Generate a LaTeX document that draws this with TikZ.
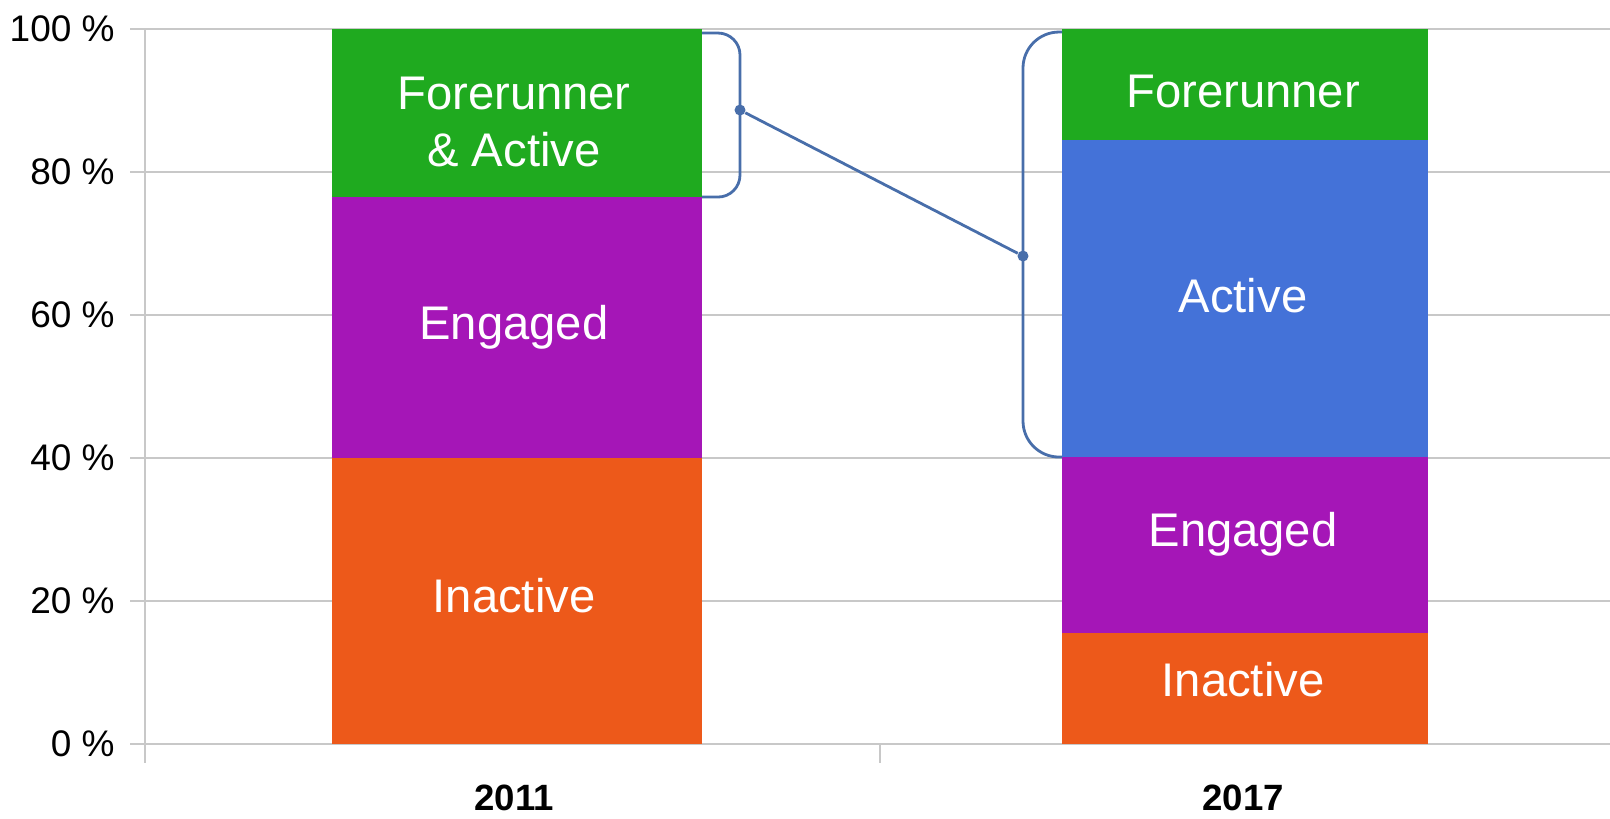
\documentclass[tikz,border=0pt]{standalone}
\usepackage{fontspec}
\setmainfont{Liberation Sans}
\usetikzlibrary{positioning}
\definecolor{inactivecol}{RGB}{237,89,26}
\definecolor{engagedcol}{RGB}{165,22,183}
\definecolor{activecol}{RGB}{68,114,216}
\definecolor{forerunnercol}{RGB}{31,170,31}
\definecolor{bracecol}{RGB}{72,110,170}
\definecolor{gridcol}{RGB}{200,200,200}
\tikzset {
  grid line/.style = {
    draw = gridcol,
    line width = 0.8pt
  },
  % one stacked part of a bar
  seg/.style = {
    fill = #1
  },
  seg label/.style = {
    text = white,
    align = center,
    font = \fontsize{23.6}{28.5}\selectfont
  },
  axis label/.style = {
    anchor = east,
    inner sep = 0,
    font = \fontsize{18.5}{22}\selectfont
  },
  year label/.style = {
    font = \bfseries\fontsize{18.3}{22}\selectfont
  },
  % brace round a bar part
  brace/.style = {
    draw = bracecol,
    line width = 1.4pt
  },
  dot/.style = {
    circle,
    fill = bracecol,
    minimum size = 5.5pt,
    inner sep = 0
  }
}
\begin{document}
\begin{tikzpicture}[x=0.5pt, y=3.575pt]
    \useasboundingbox (0,-10.35) rectangle (1610,104.06);

    % grid and axes
    \foreach \p in {0,20,...,100} {
      \draw[grid line] (130,\p) -- (1610,\p);
      \node[axis label] (lab\p) at (115,\p) {\p~\%};
    }
    \draw[grid line] (145,100) -- (145,-2.66);
    \draw[grid line] (880,0) -- (880,-2.66);

    % 2011
    \path[seg=inactivecol] (332,0) rectangle (702,40);
    \path[seg=engagedcol] (332,40) rectangle (702,76.5);
    \path[seg=forerunnercol] (332,76.5) rectangle (702,100);
    \node[seg label] (in11) at (514,20.7) {Inactive};
    \node[seg label] (en11) at (514,58.3) {Engaged};
    \node[seg label] (fa11) at (514,87.0) {Forerunner\\\& Active};

    % 2017
    \path[seg=inactivecol] (1062,0) rectangle (1428,15.5);
    \path[seg=engagedcol] (1062,15.5) rectangle (1428,40.2);
    \path[seg=activecol] (1062,40.2) rectangle (1428,84.5);
    \path[seg=forerunnercol] (1062,84.5) rectangle (1428,100);
    \node[seg label] (in17) at (1243,9.0) {Inactive};
    \node[seg label] (en17) at (1243,29.4) {Engaged};
    \node[seg label] (ac17) at (1243,62.7) {Active};
    \node[seg label] (fo17) at (1243,91.3) {Forerunner};

    \node[year label] (y2011) at (514,-7.55) {2011};
    \node[year label] (y2017) at (1243,-7.55) {2017};

    % braces and link
    \draw[brace, rounded corners = 11pt] (702,99.44) -- (740,99.44) -- (740,76.5) -- (702,76.5);
    \draw[brace, rounded corners = 18pt] (1062,99.58) -- (1023,99.58) -- (1023,40.14) -- (1062,40.14);
    \node[dot] (left) at (740,88.67) {};
    \node[dot] (right) at (1023,68.25) {};
    \draw[brace] (left) -- (right);
  \end{tikzpicture}
\end{document}
